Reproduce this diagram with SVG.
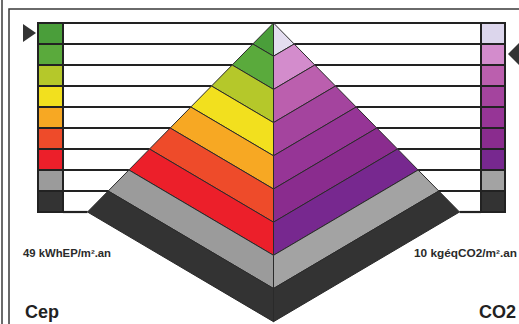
<svg xmlns="http://www.w3.org/2000/svg" width="519" height="324" viewBox="0 0 519 324">
<style>
.band{stroke:#2a2a2a;stroke-width:1;stroke-linejoin:round}
.sw{stroke:#222;stroke-width:2}
.ln{stroke:#222;stroke-width:2.2;fill:none}
.frame{stroke:#3a3a3a;stroke-width:1.5;fill:none}
.small{font-family:"Liberation Sans",Arial,sans-serif;font-size:10px;font-weight:bold;fill:#2a2a2a}
.big{font-family:"Liberation Sans",Arial,sans-serif;font-size:18px;font-weight:bold;fill:#222}
.arr{fill:#333}
</style>
<rect width="519" height="324" fill="#ffffff"/>
<g id="frame">
<line class="frame" x1="2" y1="0" x2="2" y2="324"/>
<path class="frame" d="M9,330 V9 H525"/>
</g>
<g id="connectors">
<line class="ln" x1="63" y1="23" x2="481" y2="23"/>
<line class="ln" x1="63" y1="44" x2="252.8" y2="44"/>
<line class="ln" x1="63" y1="65" x2="232.2" y2="65"/>
<line class="ln" x1="63" y1="86" x2="211.5" y2="86"/>
<line class="ln" x1="63" y1="107" x2="190.8" y2="107"/>
<line class="ln" x1="63" y1="128" x2="170.2" y2="128"/>
<line class="ln" x1="63" y1="149" x2="149.5" y2="149"/>
<line class="ln" x1="63" y1="170" x2="128.9" y2="170"/>
<line class="ln" x1="63" y1="191" x2="108.2" y2="191"/>
<line class="ln" x1="63" y1="212" x2="87.5" y2="212"/>
<line class="ln" x1="294.2" y1="44" x2="481" y2="44"/>
<line class="ln" x1="314.8" y1="65" x2="481" y2="65"/>
<line class="ln" x1="335.5" y1="86" x2="481" y2="86"/>
<line class="ln" x1="356.2" y1="107" x2="481" y2="107"/>
<line class="ln" x1="376.8" y1="128" x2="481" y2="128"/>
<line class="ln" x1="397.5" y1="149" x2="481" y2="149"/>
<line class="ln" x1="418.1" y1="170" x2="481" y2="170"/>
<line class="ln" x1="438.8" y1="191" x2="481" y2="191"/>
<line class="ln" x1="459.5" y1="212" x2="481" y2="212"/>
</g>
<g id="cep-scale">
<rect class="sw" x="38" y="23" width="25" height="21" fill="#4a9e3a"/>
<rect class="sw" x="38" y="44" width="25" height="21" fill="#5aaa3c"/>
<rect class="sw" x="38" y="65" width="25" height="21" fill="#b5c82a"/>
<rect class="sw" x="38" y="86" width="25" height="21" fill="#f2e01e"/>
<rect class="sw" x="38" y="107" width="25" height="21" fill="#f7a823"/>
<rect class="sw" x="38" y="128" width="25" height="21" fill="#ee4b2a"/>
<rect class="sw" x="38" y="149" width="25" height="21" fill="#ec1f2a"/>
<rect class="sw" x="38" y="170" width="25" height="21" fill="#9b9b9b"/>
<rect class="sw" x="38" y="191" width="25" height="21" fill="#333333"/>
<polygon class="arr" points="23,24 23,42 36,33"/>
</g>
<g id="co2-scale">
<rect class="sw" x="481" y="23" width="24" height="21" fill="#dcd6ec"/>
<rect class="sw" x="481" y="44" width="24" height="21" fill="#d38ccc"/>
<rect class="sw" x="481" y="65" width="24" height="21" fill="#bb5fae"/>
<rect class="sw" x="481" y="86" width="24" height="21" fill="#a4449e"/>
<rect class="sw" x="481" y="107" width="24" height="21" fill="#963596"/>
<rect class="sw" x="481" y="128" width="24" height="21" fill="#8a2c8e"/>
<rect class="sw" x="481" y="149" width="24" height="21" fill="#77288f"/>
<rect class="sw" x="481" y="170" width="24" height="21" fill="#a3a3a3"/>
<rect class="sw" x="481" y="191" width="24" height="21" fill="#333333"/>
<polygon class="arr" points="520,42 520,66 508,54"/>
</g>
<g id="pyramid-cep">
<polygon class="band" fill="#4a9e3a" points="273.5,23 273.5,56.2 252.8,44"/>
<polygon class="band" fill="#5aaa3c" points="252.8,44 273.5,56.2 273.5,89.4 232.2,65"/>
<polygon class="band" fill="#b5c82a" points="232.2,65 273.5,89.4 273.5,122.6 211.5,86"/>
<polygon class="band" fill="#f2e01e" points="211.5,86 273.5,122.6 273.5,155.8 190.8,107"/>
<polygon class="band" fill="#f7a823" points="190.8,107 273.5,155.8 273.5,189 170.2,128"/>
<polygon class="band" fill="#ee4b2a" points="170.2,128 273.5,189 273.5,222.2 149.5,149"/>
<polygon class="band" fill="#ec1f2a" points="149.5,149 273.5,222.2 273.5,255.3 128.9,170"/>
<polygon class="band" fill="#9b9b9b" points="128.9,170 273.5,255.3 273.5,288.5 108.2,191"/>
<polygon class="band" fill="#333333" points="108.2,191 273.5,288.5 273.5,321.7 87.5,212"/>
</g>
<g id="pyramid-co2">
<polygon class="band" fill="#e4def0" points="273.5,23 273.5,56.2 294.2,44"/>
<polygon class="band" fill="#d38ccc" points="294.2,44 273.5,56.2 273.5,89.4 314.8,65"/>
<polygon class="band" fill="#bb5fae" points="314.8,65 273.5,89.4 273.5,122.6 335.5,86"/>
<polygon class="band" fill="#a4449e" points="335.5,86 273.5,122.6 273.5,155.8 356.2,107"/>
<polygon class="band" fill="#963596" points="356.2,107 273.5,155.8 273.5,189 376.8,128"/>
<polygon class="band" fill="#8a2c8e" points="376.8,128 273.5,189 273.5,222.2 397.5,149"/>
<polygon class="band" fill="#77288f" points="397.5,149 273.5,222.2 273.5,255.3 418.1,170"/>
<polygon class="band" fill="#a3a3a3" points="418.1,170 273.5,255.3 273.5,288.5 438.8,191"/>
<polygon class="band" fill="#333333" points="438.8,191 273.5,288.5 273.5,321.7 459.5,212"/>
</g>
<g id="labels">
<text class="small" x="23" y="257" textLength="88" lengthAdjust="spacingAndGlyphs">49 kWhEP/m².an</text>
<text class="small" x="414" y="257" textLength="103" lengthAdjust="spacingAndGlyphs">10 kgéqCO2/m².an</text>
<text class="big" x="25" y="318">Cep</text>
<text class="big" x="479" y="318">CO2</text>
</g>
</svg>
